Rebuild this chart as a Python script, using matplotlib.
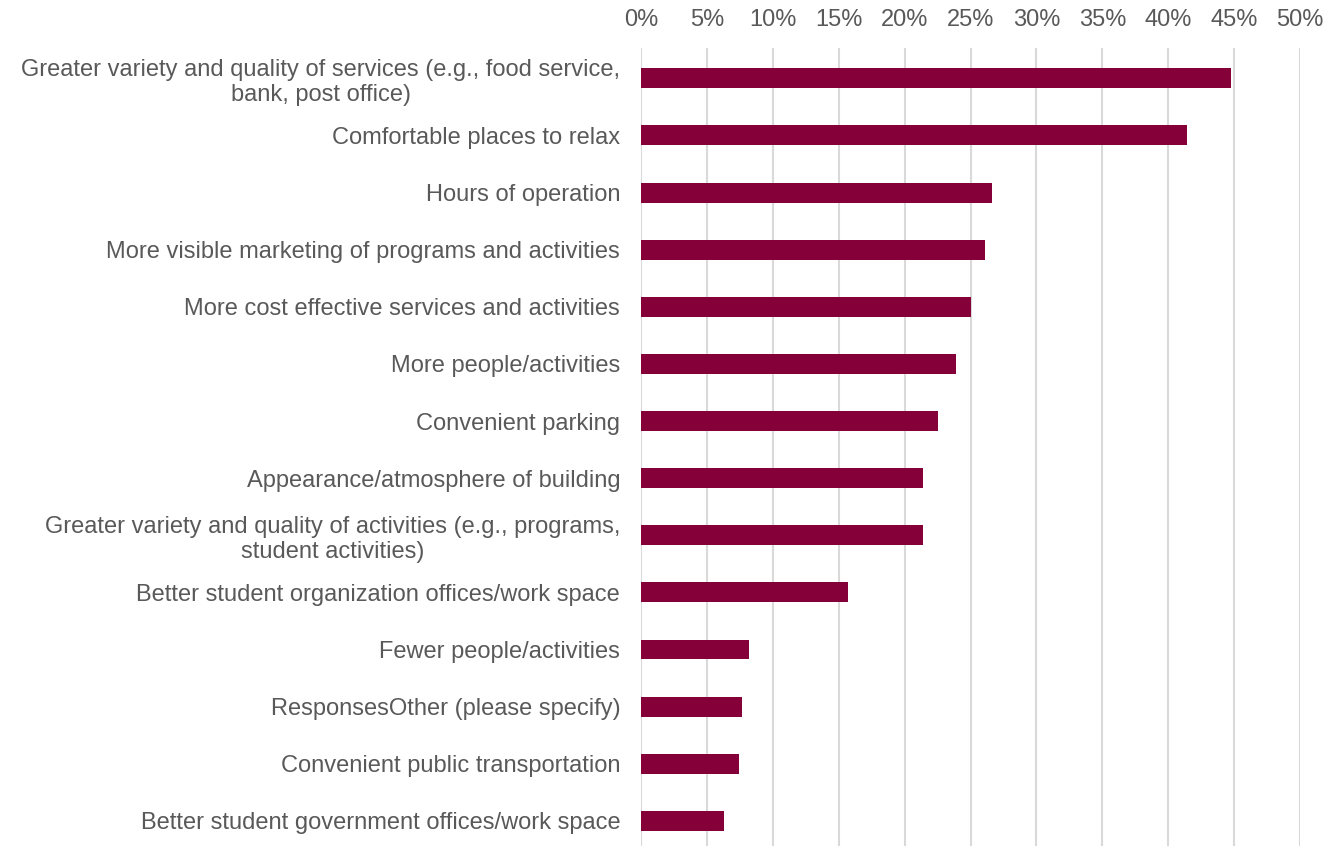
import numpy as np
import matplotlib.pyplot as plt
from matplotlib.ticker import PercentFormatter

plt.rcParams['font.family'] = ['Liberation Sans', 'DejaVu Sans']

#### Data ####
categories = [
    'Greater variety and quality of services (e.g., food service,\nbank, post office)',
    'Comfortable places to relax',
    'Hours of operation',
    'More visible marketing of programs and activities',
    'More cost effective services and activities',
    'More people/activities',
    'Convenient parking',
    'Appearance/atmosphere of building',
    'Greater variety and quality of activities (e.g., programs,\nstudent activities)',
    'Better student organization offices/work space',
    'Fewer people/activities',
    'ResponsesOther (please specify)',
    'Convenient public transportation',
    'Better student government offices/work space',
]
values = [44.8, 41.4, 26.6, 26.1, 25.0, 23.9, 22.5, 21.4, 21.4, 15.7, 8.2, 7.7, 7.4, 6.3]
xticks = [0, 5, 10, 15, 20, 25, 30, 35, 40, 45, 50]

BAR_COLOR = '#850038'
TEXT_COLOR = '#595959'
GRID_COLOR = '#d9d9d9'

fig = plt.figure(figsize=(13.27, 8.46), dpi=100)
ax = fig.add_axes([641/1327, 0.0, (1300-641)/1327, 1 - 48/846])

y = np.arange(len(categories))
ax.barh(y, values, height=0.35, color=BAR_COLOR, zorder=3)

ax.set_xlim(0, 50)
ax.set_ylim(13.44, -0.53)
ax.set_xticks(xticks)
ax.xaxis.set_major_formatter(PercentFormatter(decimals=0))
ax.xaxis.tick_top()
ax.set_yticks(y)
ax.set_yticklabels(categories, multialignment='center', linespacing=1.2)

ax.grid(axis='x', color=GRID_COLOR, lw=1.5, zorder=0)
for s in ax.spines.values():
    s.set_visible(False)
ax.tick_params(axis='both', length=0, labelsize=17, labelcolor=TEXT_COLOR)
ax.tick_params(axis='x', pad=12.5)
ax.tick_params(axis='y', pad=15)

fig.savefig('out.png', dpi=100)
